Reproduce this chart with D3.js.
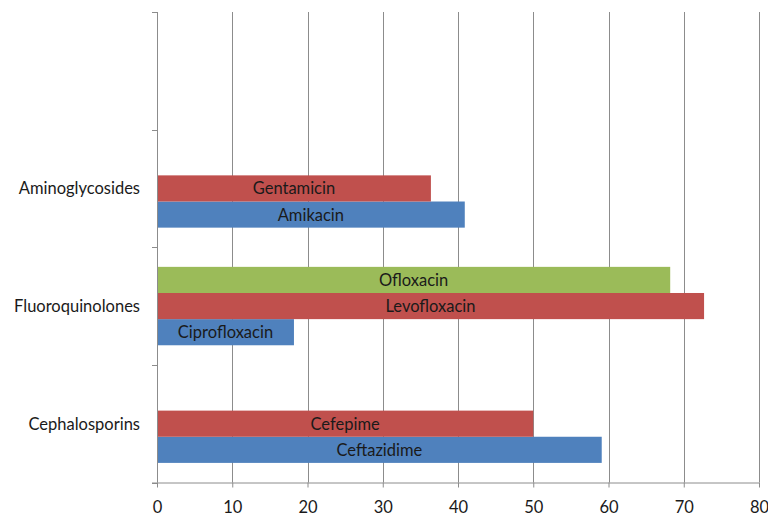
<!DOCTYPE html>
<html>
<head>
<meta charset="utf-8">
<script src="https://cdn.jsdelivr.net/npm/d3@7"></script>
<style>
  html, body { margin: 0; padding: 0; background: #fff; }
  svg { display: block; }
  text { font-family: Lato, "Open Sans", sans-serif; }
</style>
</head>
<body>
<svg id="chart" width="768" height="518"></svg>
<script>
// Antibiotic classes, bottom to top; the topmost band is left empty
const categories = ["Cephalosporins", "Fluoroquinolones", "Aminoglycosides", ""];

// Series 1 (blue), series 2 (red), series 3 (green): values in percent
const series1Values = [59.1, 18.2, 40.9, null];
const series1Names  = ["Ceftazidime", "Ciprofloxacin", "Amikacin", null];
const series2Values = [50.0, 72.7, 36.4, null];
const series2Names  = ["Cefepime", "Levofloxacin", "Gentamicin", null];
const series3Values = [null, 68.2, null, null];
const series3Names  = [null, "Ofloxacin", null, null];

const xTicks = [0, 10, 20, 30, 40, 50, 60, 70, 80];

const seriesList = [
  { key: "s1", values: series1Values, names: series1Names, color: "#4F81BD" },
  { key: "s2", values: series2Values, names: series2Names, color: "#C0504D" },
  { key: "s3", values: series3Values, names: series3Names, color: "#9BBB59" }
];

const FONT = "Lato, 'Open Sans', sans-serif";
const FS = 16.5;
const TEXT_COLOR = "#1a1a1a";
const LINE_COLOR = "#8c8c8c";

const svg = d3.select("#chart");
const plotLeft = 157, plotRight = 759, plotTop = 12, plotBottom = 482.5;

const x = d3.scaleLinear().domain([0, 80]).range([plotLeft, plotRight]);
const y = d3.scaleBand().domain(categories.slice().reverse()).range([plotTop, plotBottom]).padding(0);
const inner = d3.scaleBand().domain(["s3", "s2", "s1"]).range([0, y.bandwidth()])
  .paddingInner(0).paddingOuter(0.75);

// vertical gridlines
svg.append("g").selectAll("line").data(xTicks.filter(d => d > 0)).join("line")
  .attr("x1", d => Math.round(x(d)) + 0.5).attr("x2", d => Math.round(x(d)) + 0.5)
  .attr("y1", plotTop).attr("y2", plotBottom)
  .attr("stroke", LINE_COLOR).attr("stroke-width", 1);

// bars
const rows = [];
seriesList.forEach(s => {
  categories.forEach((c, i) => {
    if (s.values[i] != null) rows.push({ cat: c, key: s.key, value: s.values[i], name: s.names[i], color: s.color });
  });
});

svg.append("g").selectAll("rect").data(rows).join("rect")
  .attr("x", x(0))
  .attr("y", d => y(d.cat) + inner(d.key))
  .attr("width", d => x(d.value) - x(0))
  .attr("height", inner.bandwidth())
  .attr("fill", d => d.color);

svg.append("g").selectAll("text").data(rows).join("text")
  .attr("x", d => (x(0) + x(d.value)) / 2)
  .attr("y", d => y(d.cat) + inner(d.key) + inner.bandwidth() / 2)
  .attr("dy", "0.36em")
  .attr("text-anchor", "middle")
  .attr("font-size", FS)
  .attr("fill", TEXT_COLOR)
  .style("font-family", FONT)
  .text(d => d.name);

// x axis
const xAxis = svg.append("g").attr("transform", `translate(0,${plotBottom})`)
  .call(d3.axisBottom(x).tickValues(xTicks).tickSize(5).tickSizeOuter(0));
xAxis.select(".domain").attr("stroke", LINE_COLOR).attr("d", `M${plotLeft - 5},0.5H${plotRight}`);
xAxis.selectAll(".tick line").attr("stroke", LINE_COLOR);
xAxis.selectAll(".tick text")
  .attr("y", 30).attr("dy", 0)
  .attr("font-size", FS).attr("fill", TEXT_COLOR)
  .style("font-family", FONT);

// y axis: line, boundary ticks and category labels
const yAxis = svg.append("g").attr("transform", `translate(${plotLeft},0)`)
  .call(d3.axisLeft(y).tickSize(0).tickPadding(17));
yAxis.select(".domain").attr("stroke", LINE_COLOR).attr("d", `M0.5,${plotTop}V${plotBottom}`);
yAxis.selectAll(".tick text")
  .attr("dy", "0.36em")
  .attr("font-size", FS).attr("fill", TEXT_COLOR)
  .style("font-family", FONT);

const boundaries = categories.map(c => y(c)).concat([plotBottom]);
svg.append("g").selectAll("line").data(boundaries).join("line")
  .attr("x1", plotLeft - 5).attr("x2", plotLeft + 0.5)
  .attr("y1", d => Math.round(d) + 0.5).attr("y2", d => Math.round(d) + 0.5)
  .attr("stroke", LINE_COLOR);
</script>
</body>
</html>
